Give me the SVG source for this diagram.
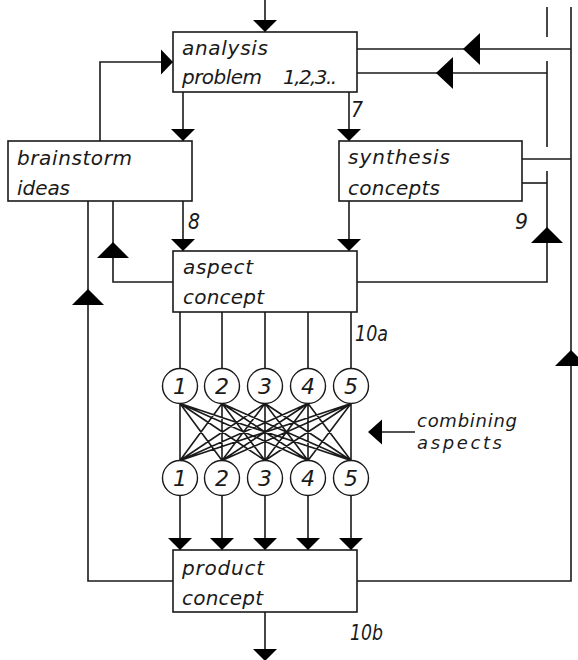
<svg xmlns="http://www.w3.org/2000/svg" xmlns:xlink="http://www.w3.org/1999/xlink" width="578" height="660" viewBox="0 0 578 660">
<style>
.ln{fill:none;stroke:#1a1a1a;stroke-width:1.6}
.box{fill:#fff;stroke:#1a1a1a;stroke-width:1.6}
.cir{fill:#fff;stroke:#1a1a1a;stroke-width:1.4}
.ah{fill:#000}
.t{font-family:"DejaVu Sans","Liberation Sans",sans-serif;font-style:italic;font-size:20px;fill:#1a1a1a}
.s{font-family:"DejaVu Sans","Liberation Sans",sans-serif;font-style:italic;font-size:18px;fill:#1a1a1a}
.d{font-family:"DejaVu Sans","Liberation Sans",sans-serif;font-style:italic;font-size:22px;fill:#1a1a1a;text-anchor:middle}
.lb{font-family:"DejaVu Sans","Liberation Sans",sans-serif;font-style:italic;font-size:22px;fill:#1a1a1a}
</style>
<defs>
<path id="ad" d="M0,0 L-12,-12 L12,-12 Z"/>
<path id="ar" d="M0,0 L-12,-12.5 L-12,12.5 Z"/>
<path id="al" d="M0,0 L14,-12.5 L14,12.5 Z"/>
<path id="bu" d="M0,0 L-16,16 L16,16 Z"/>
<path id="bl" d="M0,0 L17,-16 L17,16 Z"/>
</defs>
<rect width="578" height="660" fill="#fff"/>
<g id="connectors">
<path class="ln" d="M265,0 V32"/>
<use href="#ad" class="ah" x="265" y="32"/>
<path class="ln" d="M100,141 V62 H173"/>
<use href="#ar" class="ah" x="173" y="62"/>
<path class="ln" d="M183,92 V141"/>
<use href="#ad" class="ah" x="183" y="141"/>
<path class="ln" d="M349,92 V141"/>
<use href="#ad" class="ah" x="349" y="141"/>
<path class="ln" d="M357,49 H571"/>
<use href="#bl" class="ah" x="463" y="49"/>
<path class="ln" d="M357,73 H547"/>
<use href="#bl" class="ah" x="436" y="73"/>
<path class="ln" d="M547,7 V37"/>
<path class="ln" d="M547,61 V147"/>
<path class="ln" d="M547,171 V282 H357"/>
<use href="#bu" class="ah" x="547" y="227"/>
<path class="ln" d="M571,7 V581 H357"/>
<use href="#bu" class="ah" x="571" y="350"/>
<path class="ln" d="M522,159 H571"/>
<path class="ln" d="M522,183 H547"/>
<path class="ln" d="M183,201 V251"/>
<use href="#ad" class="ah" x="183" y="251"/>
<path class="ln" d="M349,201 V251"/>
<use href="#ad" class="ah" x="349" y="251"/>
<path class="ln" d="M113,201 V282 H173"/>
<use href="#bu" class="ah" x="113" y="242"/>
<path class="ln" d="M88,201 V581 H173"/>
<use href="#bu" class="ah" x="88" y="289"/>
<path class="ln" d="M180,312 V368 M222,312 V368 M265,312 V368 M308,312 V368 M351,312 V368"/>
<path class="ln" stroke-width="1.3" d="M180,403.5 L180,460.5 M180,403.5 L222,460.5 M180,403.5 L265,460.5 M180,403.5 L308,460.5 M180,403.5 L351,460.5
M222,403.5 L180,460.5 M222,403.5 L222,460.5 M222,403.5 L265,460.5 M222,403.5 L308,460.5 M222,403.5 L351,460.5
M265,403.5 L180,460.5 M265,403.5 L222,460.5 M265,403.5 L265,460.5 M265,403.5 L308,460.5 M265,403.5 L351,460.5
M308,403.5 L180,460.5 M308,403.5 L222,460.5 M308,403.5 L265,460.5 M308,403.5 L308,460.5 M308,403.5 L351,460.5
M351,403.5 L180,460.5 M351,403.5 L222,460.5 M351,403.5 L265,460.5 M351,403.5 L308,460.5 M351,403.5 L351,460.5"/>
<path class="ln" d="M180,495.5 V550 M222,495.5 V550 M265,495.5 V550 M308,495.5 V550 M351,495.5 V550"/>
<use href="#ad" class="ah" x="180" y="550"/>
<use href="#ad" class="ah" x="222" y="550"/>
<use href="#ad" class="ah" x="265" y="550"/>
<use href="#ad" class="ah" x="308" y="550"/>
<use href="#ad" class="ah" x="351" y="550"/>
<path class="ln" d="M265,612 V660"/>
<use href="#ad" class="ah" x="265" y="661"/>
<path class="ln" d="M415,432 H380"/>
<use href="#al" class="ah" x="368" y="432"/>
</g>
<g id="analysis">
<rect class="box" x="173" y="32" width="184" height="60"/>
<text class="t" x="182" y="55" textLength="86">analysis</text>
<text class="t" x="182" y="84" textLength="80">problem</text>
<text class="t" x="283" y="84" textLength="54">1,2,3..</text>
</g>
<g id="brainstorm">
<rect class="box" x="8" y="141" width="184" height="60"/>
<text class="t" x="17" y="165" textLength="115">brainstorm</text>
<text class="t" x="17" y="195" textLength="53">ideas</text>
</g>
<g id="synthesis">
<rect class="box" x="339" y="141" width="183" height="60"/>
<text class="t" x="348" y="164" textLength="102">synthesis</text>
<text class="t" x="348" y="195" textLength="92">concepts</text>
</g>
<g id="aspect">
<rect class="box" x="173" y="251" width="184" height="61"/>
<text class="t" x="183" y="274" textLength="70">aspect</text>
<text class="t" x="183" y="304" textLength="81">concept</text>
</g>
<g id="product">
<rect class="box" x="173" y="550" width="184" height="62"/>
<text class="t" x="182" y="575" textLength="82">product</text>
<text class="t" x="182" y="605" textLength="81">concept</text>
</g>
<g id="top-circles">
<circle class="cir" cx="180" cy="386" r="17.5"/><text class="d" x="180" y="394">1</text>
<circle class="cir" cx="222" cy="386" r="17.5"/><text class="d" x="222" y="394">2</text>
<circle class="cir" cx="265" cy="386" r="17.5"/><text class="d" x="265" y="394">3</text>
<circle class="cir" cx="308" cy="386" r="17.5"/><text class="d" x="308" y="394">4</text>
<circle class="cir" cx="351" cy="386" r="17.5"/><text class="d" x="351" y="394">5</text>
</g>
<g id="bottom-circles">
<circle class="cir" cx="180" cy="478" r="17.5"/><text class="d" x="180" y="486">1</text>
<circle class="cir" cx="222" cy="478" r="17.5"/><text class="d" x="222" y="486">2</text>
<circle class="cir" cx="265" cy="478" r="17.5"/><text class="d" x="265" y="486">3</text>
<circle class="cir" cx="308" cy="478" r="17.5"/><text class="d" x="308" y="486">4</text>
<circle class="cir" cx="351" cy="478" r="17.5"/><text class="d" x="351" y="486">5</text>
</g>
<g id="labels">
<text class="lb" x="351" y="117" textLength="12" lengthAdjust="spacingAndGlyphs">7</text>
<text class="lb" x="188" y="229" textLength="12" lengthAdjust="spacingAndGlyphs">8</text>
<text class="lb" x="515" y="229" textLength="13" lengthAdjust="spacingAndGlyphs">9</text>
<text class="lb" x="355" y="341" textLength="33" lengthAdjust="spacingAndGlyphs">10a</text>
<text class="lb" x="350" y="640" textLength="33" lengthAdjust="spacingAndGlyphs">10b</text>
<text class="s" x="417" y="427" textLength="100">combining</text>
<text class="s" x="417" y="449" textLength="85">aspects</text>
</g>
</svg>
